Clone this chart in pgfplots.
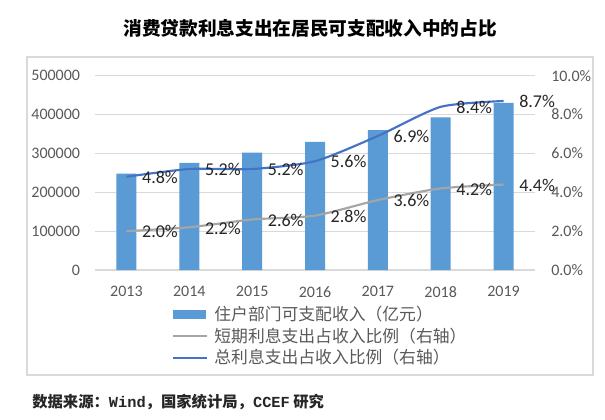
\documentclass[border=0pt]{standalone}
\usepackage{pgfplots}
\pgfplotsset{compat=1.18}
\usepackage{fontspec}
\setmainfont{Carlito}
\newfontfamily\cjk{Noto Sans CJK SC}
\newfontfamily\monof{Liberation Mono}
\definecolor{barblue}{HTML}{5B9BD5}
\definecolor{lineblue}{HTML}{4472C4}
\definecolor{linegray}{HTML}{A5A5A5}
\definecolor{gridc}{HTML}{D9D9D9}
\definecolor{tickc}{HTML}{595959}
\definecolor{labc}{HTML}{262626}
\begin{document}
\begin{tikzpicture}
\path[use as bounding box] (0,0) rectangle (453.75pt,-314.25pt);
\fill[white] (0,0) rectangle (453.75pt,-314.25pt);
\draw[gridc, line width=0.8pt] (20.25pt,-42.75pt) rectangle (444.75pt,-281.25pt);
\node[font=\cjk\bfseries\fontsize{14pt}{16pt}\selectfont, text=black] at (232.5pt,-21pt) {消费贷款利息支出在居民可支配收入中的占比};
\node[font=\cjk\bfseries\fontsize{11.5pt}{13pt}\selectfont, text=black!85, anchor=west, inner sep=0pt] at (24pt,-301.5pt) {数据来源：{\monof\bfseries Wind}，国家统计局，{\monof\bfseries CCEF} 研究};
\begin{axis}[
  at={(71.25pt,-202.5pt)}, anchor=south west,
  scale only axis, width=330pt, height=145.7pt,
  xmin=-0.5, xmax=6.5, ymin=0, ymax=500000,
  xtick={0,...,6}, xticklabels={2013,2014,2015,2016,2017,2018,2019},
  ytick={0,100000,...,500000},
  scaled y ticks=false,
  yticklabel style={/pgf/number format/fixed, /pgf/number format/1000 sep={}, inner sep=0pt, xshift=-11pt},
  xticklabel style={inner sep=0pt, yshift=-12pt},
  /pgf/number format/assume math mode=true,
  ticklabel style={font=\fontsize{12pt}{13pt}\selectfont, text=tickc},
  major tick length=0pt,
  axis line style={draw=none},
  ymajorgrids, grid style={gridc, line width=0.8pt},
  axis y line*=left, axis x line*=bottom,
]
\addplot[ybar, bar width=15pt, fill=barblue, draw=none] coordinates {
(0,248000) (1,276000) (2,302000) (3,330000) (4,360000) (5,393000) (6,430000)};
\end{axis}
\begin{axis}[
  at={(71.25pt,-202.5pt)}, anchor=south west,
  scale only axis, width=330pt, height=145.7pt,
  xmin=-0.5, xmax=6.5, ymin=0, ymax=10,
  hide x axis,
  axis y line*=right,
  axis line style={draw=none},
  ytick={0,2,...,10},
  yticklabel={\pgfmathprintnumber[fixed,fixed zerofill,precision=1]{\tick}\%},
  yticklabel style={inner sep=0pt, xshift=12pt},
  /pgf/number format/assume math mode=true,
  ticklabel style={font=\fontsize{12pt}{13pt}\selectfont, text=tickc},
  major tick length=0pt,
  legend style={at={(0.175,-0.17)}, anchor=north west, draw=none, fill=none,
    inner sep=0pt, row sep=0pt, column sep=3pt,
    font=\cjk\fontsize{12.6pt}{13pt}\selectfont, text=tickc},
  legend cell align=left,
  nodes near coords={\pgfmathprintnumber[fixed,fixed zerofill,precision=1]{\pgfplotspointmeta}\%},
  every node near coord/.append style={anchor=west, xshift=11pt, yshift=-0.5pt, font=\fontsize{13.5pt}{15pt}\selectfont, text=labc, inner sep=0pt},
]
\addlegendimage{legend image code/.code={\fill[barblue] (0pt,-2.8pt) rectangle (24pt,2.8pt);}}
\addlegendentry{住户部门可支配收入（亿元）}
\addlegendimage{legend image code/.code={\draw[linegray, line width=1.6pt] (0pt,0pt) -- (25pt,0pt);}}
\addlegendentry{短期利息支出占收入比例（右轴）}
\addlegendimage{legend image code/.code={\draw[lineblue, line width=1.6pt] (0pt,0pt) -- (25pt,0pt);}}
\addlegendentry{总利息支出占收入比例（右轴）}
\addplot[linegray, line width=1.6pt, smooth, tension=0.4, mark=none, forget plot] coordinates {
(0,2.0) (1,2.2) (2,2.6) (3,2.8) (4,3.6) (5,4.2) (6,4.4)};
\addplot[lineblue, line width=1.6pt, smooth, tension=0.4, mark=none, forget plot] coordinates {
(0,4.8) (1,5.2) (2,5.2) (3,5.6) (4,6.9) (5,8.4) (6,8.7)};
\end{axis}
\end{tikzpicture}
\end{document}
